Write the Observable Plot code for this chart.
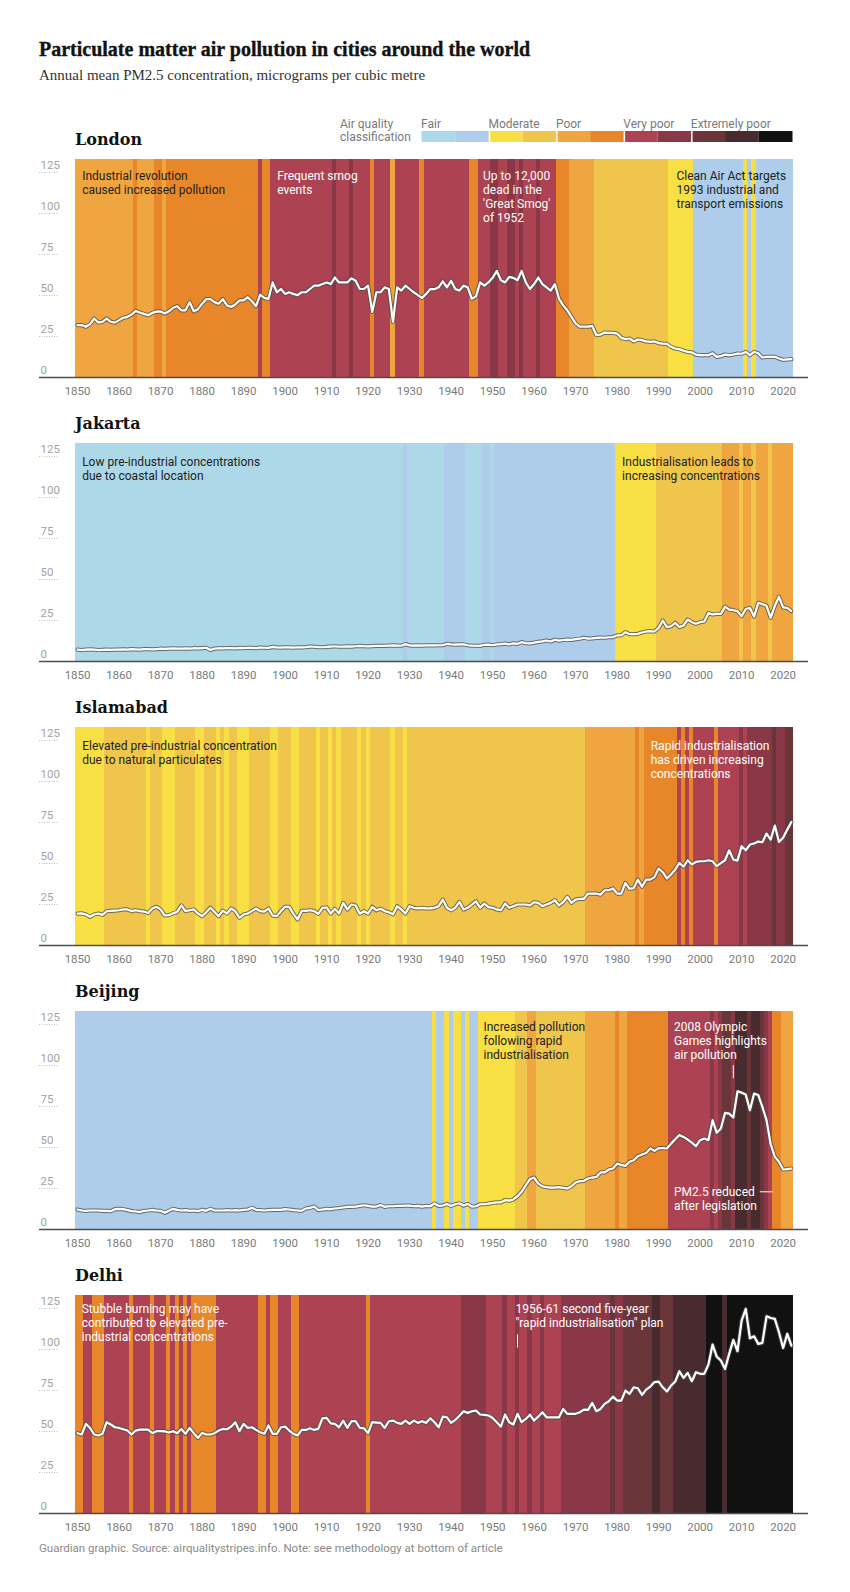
<!DOCTYPE html>
<html><head><meta charset="utf-8">
<script src="https://cdn.jsdelivr.net/npm/d3@7"></script>
<script src="https://cdn.jsdelivr.net/npm/@observablehq/plot@0.6"></script>
<style>
body{margin:0;background:#fff;}
#page{position:relative;width:850px;height:1592px;overflow:hidden;background:#fff;font-family:Roboto,sans-serif;}
.abs{position:absolute;white-space:nowrap;}
.title{left:39px;top:38.5px;font-family:"Liberation Serif",serif;font-weight:700;font-size:20px;line-height:20px;color:#121212;-webkit-text-stroke:0.35px #121212;}
.subtitle{left:39px;top:68.4px;font-family:"Liberation Serif",serif;font-size:15px;line-height:15px;color:#333;}
.city{left:75px;font-family:"DejaVu Serif",serif;font-weight:700;font-size:16px;line-height:16px;color:#121212;}
.leg{font-size:12px;line-height:12px;color:#7a7a7a;}
.foot{left:39px;top:1543px;font-size:11.5px;line-height:11.5px;color:#8a8a8a;}
svg{position:absolute;left:0;}
</style></head>
<body><div id="page"></div>
<script>
// ---- categories ----
const cities = ["London", "Jakarta", "Islamabad", "Beijing", "Delhi"];
const firstYear = 1850;
const xTicks = [1850,1860,1870,1880,1890,1900,1910,1920,1930,1940,1950,1960,1970,1980,1990,2000,2010,2020];
const yTicks = [0,25,50,75,100,125];
const classBreaks = [10,15,20,30,40,50,60,70,80,90];
const classColors = ["#add8e7","#aecdeb","#f7df44","#f0c54c","#f0a640","#e8862a","#ad4352","#8a3847","#6a3539","#472b2e","#111111"];
const classGroups = ["Fair","Moderate","Poor","Very poor","Extremely poor"];
const classGroupStart = [0,2,4,6,8];

// ---- series values, 1850..2022 (one per year) ----
const london = [
32,32,31,32.5,36,33.5,34,36,34,33.5,
35,36.4,37,38.4,40.6,39.6,38.8,38,39.4,40.2,
40.3,39,40.4,42.5,43.5,41,41,46,40.4,41.7,
45,47.8,47.8,46,45,47.8,44,43,44.5,47,
47,49,46.5,43.5,50.5,48.6,48,58,52,54,
51,52,51,50.2,52,52,54,56,56,57,
58,57,61,58,58,58,60.5,59,54,54,
56,40,52,52,55,54,34,55,53,56,
54,52,50.2,48.6,51,54,53.9,55,58.7,55,
59,54,53,56,55,48,49.5,58,56,58,
60.8,65,59.3,58,61.4,60.8,59.3,65,58,54,
57,61,57,55,53,57,48,44,41,37,
33,31,31,31,31.5,25.8,26.2,27.4,27.2,27.2,
26.8,24.2,23.4,23.8,22,23.2,22.8,22,21.7,22,
21,20.7,20.5,18.7,17.7,17.3,16.3,15.6,15.3,14,
13.6,13.6,13.6,14.8,12.6,13,14,13.6,14,14.6,
14.5,15.6,13.6,15.6,14.8,12.2,12.6,12.6,12.6,11.6,
10.8,11,11.2];
const jakarta = [
7.2,7.0,7.3,7.4,7.2,7.0,7.1,7.2,7.1,7.3,
7.2,7.4,7.3,7.5,7.4,7.3,7.5,7.6,7.4,7.6,
7.8,7.7,7.9,8.0,7.8,7.9,8.0,7.9,8.1,8.0,
8.2,8.4,7.0,7.9,8.1,8.0,8.2,8.1,8.0,8.3,
8.2,8.4,8.3,8.2,8.5,8.4,8.3,8.9,8.6,8.5,
8.7,8.6,8.5,8.7,8.6,8.8,9.1,9.0,8.8,8.7,
8.9,9.1,9.3,9.0,9.1,9.2,9.1,9.3,9.5,9.3,
9.2,9.4,9.5,9.6,9.5,9.7,9.8,9.7,9.6,10.6,
9.8,9.7,9.8,9.7,9.8,9.9,9.8,9.9,9.9,10.8,
10.4,10.3,10.5,10.4,9.9,9.7,9.6,9.5,10.2,10.3,
9.9,10.4,10.6,10.9,10.5,11.1,10.8,11.8,11.2,11.1,
11.5,12.0,12.3,12.8,12.2,13.3,12.7,13.1,13.4,13.2,
13.6,13.9,14.5,14.0,14.1,14.4,14.6,14.5,14.8,14.9,
15.9,16,17.9,16.7,16.7,16.9,17.7,18.3,18.5,18.3,
20.5,25,21,21.5,23.6,21,22,25.6,24,23,
24,24.4,29.5,28.7,29,29,33.5,31.7,31.3,30.7,
27.6,32,32.7,27.4,35.8,35,34,26.6,34,39.5,
33,32.7,30.7];
const islamabad = [
19.5,19.6,18.9,17.5,18.9,19.5,18.7,20.9,21.1,21.3,
21.5,22,22,21,21.5,21,20.7,19.8,22.6,23.6,
22,18.3,18.5,19.6,20.5,24.4,21,21.5,22,19.5,
17.9,20.3,23,20.4,17.9,21.3,19.5,22.6,21,16.9,
18.9,19.5,21,22.6,21,20.7,22.6,18.3,17.9,21,
23.6,23.6,19.3,15.9,21.1,21.1,21.5,21,19.3,23,
23.2,19.5,22.4,19.5,26,22,25,24.4,19.4,20.9,
19.5,23.6,21.5,22.4,21,20.3,19,24,22,19.5,
24,23,22.6,23,22.6,22.6,23,24,28,23,
21.5,23,26.6,22,23,25,27,23,25.6,23.4,
23,22,21.5,25.6,23,24,25,25,25,24.4,
26.4,26,24,25,26,27.6,24.4,26.4,29.6,26,
28,28.5,28.5,31.7,31.7,31.7,31,33.7,33.7,34.8,
31.7,31.7,38.2,34.6,35,40.2,35.8,40.2,40.2,41.7,
47,44.7,40.9,43.3,46.3,50.4,48,52,49.4,51,
51.4,51.4,52,51.4,48.4,50.3,52,58.1,52.4,51.8,
60.6,58.1,61.6,62.2,63.4,63,68.3,64.6,73.2,63.2,
65.7,70.7,75.4];
const beijing = [
12.2,11.6,11.4,11.6,11.6,11.6,11.4,11.4,11.2,12.4,
12.6,12.4,11.8,11.2,11,10.6,11.4,11.6,12,11.6,
11.4,10.2,11.4,12.6,12,11.6,11.8,11.4,11.6,11.2,
12,11.4,12.6,11.6,11.6,11.6,11.8,11.6,11.8,11.6,
12,12.2,13.2,12,11.8,11.6,11.8,12,12,12,
12.4,12.2,11.8,11.6,11.4,12.8,13.2,14,11.8,12.2,
12.6,12.4,12.8,13,13.4,13.8,13.8,14,14.4,14.8,
14.4,14,14,14.9,13.8,14.2,14.2,14.4,14.4,14.6,
14.6,14.2,14.4,14,14.4,14.2,15.9,14.4,14.6,15.6,
14.4,15.4,16,14.6,15.6,14,14.2,15.4,15.4,15.8,
16.2,16.6,16.6,17.9,17.6,18.3,20.3,23,27,30.7,
31.7,28,26.4,25.8,25.6,25.6,25.8,25.4,25,26.4,
28.7,29.5,29.7,31.1,31.7,32.1,34.8,34.8,36.6,37.2,
40.2,39.4,38.8,41.3,42.3,44.7,45.7,46.7,49.5,48,
49.6,49.7,49.4,52.4,55,57.7,56.5,54.9,53,50.8,
54.5,55.5,54.5,66.7,59,61.6,71.1,70.7,68.3,84.3,
83.5,82.3,72.8,82.9,82.1,74.8,66.7,52,44.3,41.3,
36.6,36.8,37.2];
const delhi = [
49,48.2,54.7,52.2,48.2,47.6,48.6,55.7,54.3,52.6,
52.2,51.4,50.6,48.2,50.6,51.2,51.2,51.2,49,50.2,
50.2,50.1,49.4,50.2,49,51.6,48.6,52.2,49,46.1,
49.2,48.2,48.2,49,50.6,51.6,51.4,53,55.7,50.2,
54.7,52.2,52.6,51,49.6,48.6,53.7,48.6,48.6,52.6,
53,50.6,48.6,47.6,51,51,52,51,51.6,58.1,
58.3,55,54.7,52.6,56.7,52.2,56.3,56.3,52.2,52,
49,55.7,55.5,55.3,52.2,56.3,56.7,55.3,54.7,56.7,
54.7,56.7,55.3,56.3,55.3,58.1,55.7,52.6,59.1,58.7,
55.3,57.1,59.6,62.4,61.4,62.4,62.8,60.4,60.2,59.8,
58.3,55.7,53,60.4,55.7,54.3,60.8,55.7,57.7,60.3,
56.7,59.1,61.8,58.7,58.7,58.7,58.7,63.8,60.8,60.8,
60.8,61.8,63.4,63.2,67.5,62.4,63.8,66.9,68.5,71.3,
68.9,68.9,75,73,77,76.4,72.4,75.6,77.4,80.2,
80.4,77,74.4,78,80.5,86.8,82.7,85.8,80.7,86.2,
85.2,85.2,90.9,103,95.7,93.3,88.2,97.4,105.9,99,
117.7,124.8,106.9,108.1,103.5,104.1,120.3,119.3,118.7,110.6,
101,109.6,102.4];
const seriesValues = [london, jakarta, islamabad, beijing, delhi];

// ---- annotations (year, value of text top) ----
const notes = [
  [{year:1851.1,value:126.4,tone:"dark",text:"Industrial revolution\ncaused increased pollution"},
   {year:1898.1,value:126.4,tone:"light",text:"Frequent smog\nevents"},
   {year:1947.7,value:126.4,tone:"light",text:"Up to 12,000\ndead in the\n'Great Smog'\nof 1952"},
   {year:1994.3,value:126.4,tone:"dark",text:"Clean Air Act targets\n1993 industrial and\ntransport emissions"}],
  [{year:1851.1,value:125.2,tone:"dark",text:"Low pre-industrial concentrations\ndue to coastal location"},
   {year:1981.2,value:125.2,tone:"dark",text:"Industrialisation leads to\nincreasing concentrations"}],
  [{year:1851.1,value:125.2,tone:"dark",text:"Elevated pre-industrial concentration\ndue to natural particulates"},
   {year:1988.1,value:125.2,tone:"light",text:"Rapid industrialisation\nhas driven increasing\nconcentrations"}],
  [{year:1947.8,value:127.2,tone:"dark",text:"Increased pollution\nfollowing rapid\nindustrialisation"},
   {year:1993.7,value:127.2,tone:"light",text:"2008 Olympic\nGames highlights\nair pollution"},
   {year:1993.7,value:26.3,tone:"light",text:"PM2.5 reduced\nafter legislation"}],
  [{year:1851,value:128.2,tone:"light",text:"Stubble burning may have\ncontributed to elevated pre-\nindustrial concentrations"},
   {year:1955.5,value:128.2,tone:"light",text:"1956-61 second five-year\n\"rapid industrialisation\" plan"}]
];
const vMarkers = [[], [], [], [{year:2008, from:92, to:100}], [{year:1956, from:101, to:109}]];
const hMarkers = [[], [], [], [{value:23, from:2014.5, to:2017.6}], []];

// ---- layout ----
const page = document.getElementById("page");
function addDiv(cls, text, style) {
  const d = document.createElement("div");
  d.className = "abs " + cls;
  d.textContent = text;
  Object.assign(d.style, style || {});
  page.appendChild(d);
  return d;
}
addDiv("title", "Particulate matter air pollution in cities around the world");
addDiv("subtitle", "Annual mean PM2.5 concentration, micrograms per cubic metre");
addDiv("leg", "Air quality", {left: "340px", top: "117.5px"});
addDiv("leg", "classification", {left: "340px", top: "131px"});

// legend
const legendData = classColors.map((c, i) => ({i, c}));
const groupData = classGroups.map((g, k) => ({label: g, start: classGroupStart[k]}));
const legend = Plot.plot({
  width: 378, height: 34, marginLeft: 3.5, marginRight: 3.5, marginTop: 21, marginBottom: 2,
  x: {domain: [0, classColors.length], axis: null},
  y: {axis: null},
  style: {fontFamily: "Roboto, sans-serif", overflow: "visible", background: "transparent"},
  marks: [
    Plot.rect(legendData, {x1: "i", x2: d => d.i + 1, fill: "c"}),
    Plot.ruleX(classGroupStart.slice(1), {stroke: "white", strokeWidth: 1.5}),
    Plot.text(groupData, {x: "start", text: "label", frameAnchor: "top", textAnchor: "start", dy: -12, dx: -1, fill: "#7a7a7a", fontSize: 12})
  ]
});
legend.style.left = "418px"; legend.style.top = "110px";
page.appendChild(legend);

const plotH = 218;
const mTop = 10, mBottom = 30, mLeft = 75, mRight = 57;
const yTop = 133;
const tickStubRight = 850 - mLeft - mRight - 20 + 36 - 36;

cities.forEach((city, k) => {
  const panelTop = 159.3 + 283.8 * k;
  addDiv("city", city, {top: (panelTop - 27) + "px"});
  const data = seriesValues[k].map((v, i) => ({year: firstYear + i, value: v}));
  const lastYear = firstYear + data.length - 1;
  const nts = notes[k];
  const chart = Plot.plot({
    width: 850, height: mTop + plotH + mBottom,
    marginTop: mTop, marginBottom: mBottom, marginLeft: mLeft, marginRight: mRight,
    x: {domain: [firstYear - 0.5, lastYear + 0.5], axis: null},
    y: {domain: [0, yTop], axis: null},
    color: {type: "threshold", domain: classBreaks, range: classColors},
    style: {fontFamily: "Roboto, sans-serif", overflow: "visible", background: "transparent"},
    marks: [
      Plot.rect(data, {x1: d => d.year - 0.5, x2: d => d.year + 0.5, fill: "value", shapeRendering: "crispEdges"}),
      Plot.ruleY(yTicks.filter(t => t > 0), {stroke: "#bdbdbd", strokeDasharray: "1,1.5", insetLeft: -36, insetRight: 734}),
      Plot.text(yTicks, {y: d => d, text: d => String(d), frameAnchor: "left", textAnchor: "start", dx: -35, dy: -7.2, fill: "#a3a3a3", fontSize: 11.5}),
      Plot.line(data, {x: "year", y: "value", stroke: "#4a4a4a", strokeOpacity: 0.75, strokeWidth: 4.2, strokeLinejoin: "round"}),
      Plot.line(data, {x: "year", y: "value", stroke: "white", strokeWidth: 2.2, strokeLinejoin: "round"}),
      Plot.ruleY([0], {stroke: "#4d4d4d", strokeWidth: 1.3, insetLeft: -36, insetRight: -15}),
      Plot.text(xTicks, {x: d => d, text: d => String(d), frameAnchor: "bottom", lineAnchor: "top", dy: 9, fill: "#7a7a7a", fontSize: 11.5}),
      Plot.text(nts.filter(d => d.tone === "dark"), {x: "year", y: "value", text: "text", textAnchor: "start", lineAnchor: "top", lineHeight: 14 / 12, fill: "#222", fontSize: 12}),
      Plot.text(nts.filter(d => d.tone === "light"), {x: "year", y: "value", text: "text", textAnchor: "start", lineAnchor: "top", lineHeight: 14 / 12, fill: "#fff", fontSize: 12}),
      Plot.ruleX(vMarkers[k], {x: "year", y1: "from", y2: "to", stroke: "#fff", strokeWidth: 1}),
      Plot.ruleY(hMarkers[k], {y: "value", x1: "from", x2: "to", stroke: "#fff", strokeWidth: 1})
    ]
  });
  chart.style.top = (panelTop - mTop) + "px";
  page.appendChild(chart);
});

addDiv("foot", "Guardian graphic. Source: airqualitystripes.info. Note: see methodology at bottom of article");
</script>
</body></html>
